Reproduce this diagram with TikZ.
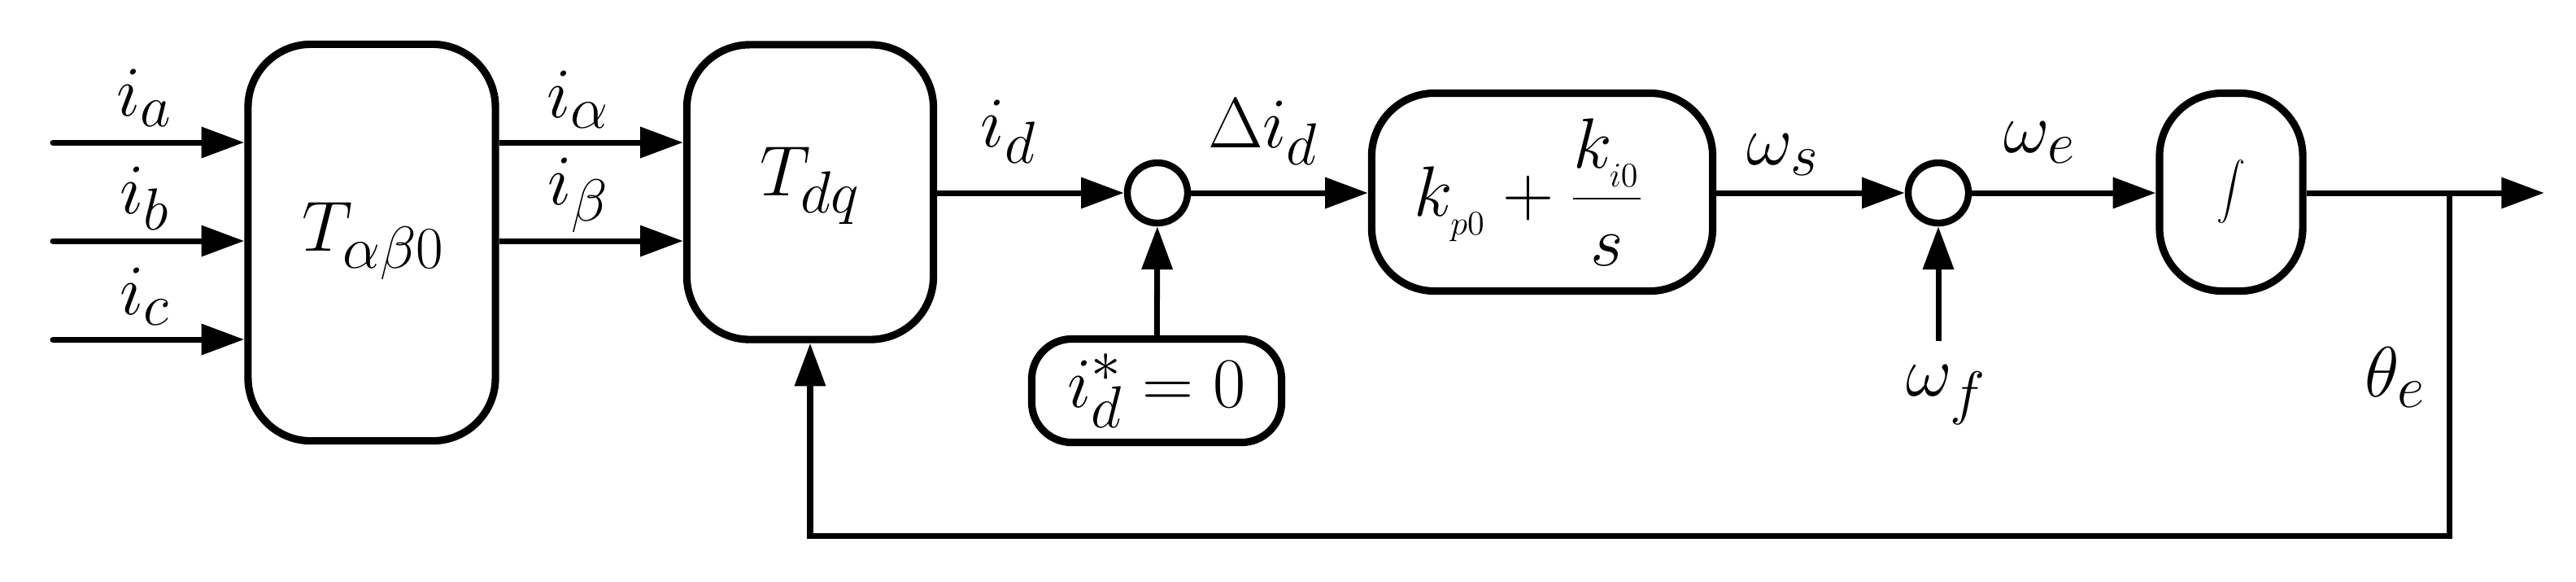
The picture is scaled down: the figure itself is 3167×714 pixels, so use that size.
\documentclass[tikz,border=0pt]{standalone}
\usetikzlibrary{arrows.meta}
\begin{document}
\begin{tikzpicture}[x=0.01cm,y=-0.01cm,line width=2pt,
  blk/.style={draw,rounded corners=22pt,line width=2.6pt,inner sep=0pt},
  sum/.style={draw,circle,minimum size=0.74cm,inner sep=0pt,line width=2.4pt},
  lbl/.style={font=\fontsize{24}{28}\selectfont,inner sep=1pt},
  arr/.style={-{Triangle[length=15pt,width=10.5pt]}}]
\useasboundingbox (0,0) rectangle (3167,714);
\node[blk,minimum width=3.04cm,minimum height=4.87cm] (tab) at (457,298) {};
\node[lbl,font=\fontsize{30}{34}\selectfont] at (459,296) {$T_{\alpha\beta0}$};
\node[blk,minimum width=3.03cm,minimum height=3.62cm] (tdq) at (996,236) {};
\node[lbl,font=\fontsize{30}{34}\selectfont] at (996,228) {$T_{dq}$};
\node[sum] (s1) at (1423,237) {};
\node[blk,rounded corners=14pt,minimum width=3.07cm,minimum height=1.27cm,font=\fontsize{28}{32}\selectfont] (ref) at (1422,480) {$i_d^{*}=0$};
\node[blk,minimum width=4.19cm,minimum height=2.43cm] (pi) at (1896,236) {};
\node[lbl] at (1880,236) {$k_{_{p0}}+\displaystyle\frac{k_{_{i0}}}{s}$};
\node[sum] (s2) at (2383,237) {};
\node[blk,minimum width=1.76cm,minimum height=2.43cm] (int) at (2743,236) {};
\node[lbl,font=\fontsize{30}{34}\selectfont] at (2743,236) {$\displaystyle\int$};
\coordinate (ia) at (65,175); \coordinate (ib) at (65,296); \coordinate (ic) at (65,417);
\foreach \c/\y in {ia/175,ib/296,ic/417} \draw[arr,line cap=round] (\c) -- (tab.west |- 0,\y);
\draw[arr] (tab.east |- 0,175) -- (tdq.west |- 0,175);
\draw[arr] (tab.east |- 0,296) -- (tdq.west |- 0,296);
\draw[arr] (tdq.east |- s1) -- (s1);
\draw[arr] (s1) -- (pi.west |- s1);
\draw[arr] (ref) -- (s1);
\draw[arr] (pi.east |- s2) -- (s2);
\coordinate (wf) at (2383,419);
\draw[arr] (wf) -- (s2);
\draw[arr] (s2) -- (int.west |- s2);
\coordinate (out) at (3128,237);
\draw[arr] (int.east |- out) -- (out);
\coordinate (br) at (3011,237); \coordinate (c1) at (3011,658); \coordinate (c2) at (996,658);
\draw[arr] (br) -- (c1) -- (c2) -- (tdq.south);
\node[lbl,font=\fontsize{28}{32}\selectfont] (la) at (178,120) {$i_a$};
\node[lbl,font=\fontsize{28}{32}\selectfont] (lb) at (178,244) {$i_b$};
\node[lbl,font=\fontsize{28}{32}\selectfont] (lc) at (178,364) {$i_c$};
\node[lbl,font=\fontsize{28}{32}\selectfont] (lal) at (711,122) {$i_\alpha$};
\node[lbl,font=\fontsize{28}{32}\selectfont] (lbe) at (711,240) {$i_\beta$};
\node[lbl,font=\fontsize{28}{32}\selectfont] (lid) at (1240,162) {$i_d$};
\node[lbl,font=\fontsize{28}{32}\selectfont] (ldid) at (1553,162) {$\Delta i_d$};
\node[lbl,font=\fontsize{28}{32}\selectfont] (lws) at (2192,190) {$\omega_s$};
\node[lbl,font=\fontsize{30}{34}\selectfont] (lwe) at (2508,175) {$\omega_e$};
\node[lbl,font=\fontsize{30}{34}\selectfont] (lwf) at (2393,485) {$\omega_f$};
\node[lbl,font=\fontsize{28}{32}\selectfont] (lth) at (2945,464) {$\theta_e$};
\end{tikzpicture}
\end{document}
